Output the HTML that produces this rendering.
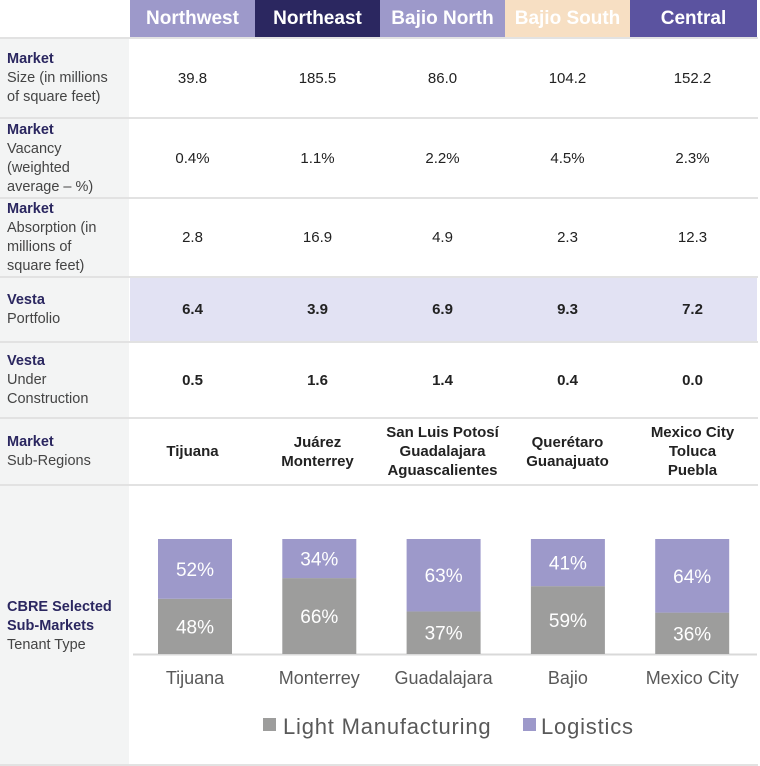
<!DOCTYPE html>
<html><head><meta charset="utf-8"><style>
body{margin:0;width:760px;height:766px;background:#fff;font-family:"Liberation Sans",sans-serif;position:relative;overflow:hidden}
.a{position:absolute;box-sizing:border-box}
.hd{color:#fff;font-weight:bold;font-size:19px;text-align:center;line-height:38px;top:0;height:38px}
.lc{left:0;width:129px;background:#f3f4f4;padding:4px 16px 4px 7px;font-size:14.5px;color:#444;line-height:19px;display:flex;flex-direction:column;justify-content:center}
.lc b{color:#2b2760}
.cell{font-size:15px;color:#222;text-align:center;display:flex;align-items:center;justify-content:center;line-height:19px}
.sep{left:0;width:758px;height:2px;background:#e2e2e2}
</style></head><body>
<div class="a hd" style="left:130px;width:125px;background:#9d99ca">Northwest</div>
<div class="a hd" style="left:255px;width:125px;background:#2b2760">Northeast</div>
<div class="a hd" style="left:380px;width:125px;background:#9d99ca">Bajio North</div>
<div class="a hd" style="left:505px;width:125px;background:#f7dfc3">Bajio South</div>
<div class="a hd" style="left:630px;width:127px;background:#5b53a0">Central</div>
<div class="a" style="left:130px;top:277px;width:627px;height:65px;background:#e2e2f3"></div>
<div id="rows"></div>
<svg class="a" id="chart" style="left:0;top:0" width="760" height="766"></svg>
<script>
const rowTops=[38,118,198,277,342,418,485];
const labels=[["Market","Size (in millions of square feet)"],["Market","Vacancy (weighted average – %)"],["Market","Absorption  (in millions of square feet)"],["Vesta","Portfolio"],["Vesta","Under Construction"],["Market","Sub-Regions"],["CBRE Selected Sub-Markets","Tenant Type"]];
const vals=[["39.8","185.5","86.0","104.2","152.2"],["0.4%","1.1%","2.2%","4.5%","2.3%"],["2.8","16.9","4.9","2.3","12.3"],["6.4","3.9","6.9","9.3","7.2"],["0.5","1.6","1.4","0.4","0.0"],["Tijuana","Juárez<br>Monterrey","San Luis Potosí<br>Guadalajara<br>Aguascalientes","Querétaro<br>Guanajuato","Mexico City<br>Toluca<br>Puebla"]];
const colX=[130,255,380,505,630];
const R=document.getElementById('rows');
for(let i=0;i<7;i++){
 const top=rowTops[i],bot=i<6?rowTops[i+1]:766;
 const s=document.createElement('div');s.className='a sep';s.style.top=(top-1)+'px';
 
 
 R.appendChild(s);
 const l=document.createElement('div');l.className='a lc';l.style.top=(top+1)+'px';l.style.height=(bot-top-1)+'px';
 l.innerHTML='<b>'+labels[i][0]+'</b><span>'+labels[i][1]+'</span>';
 
 
 R.appendChild(l);
 if(i<6)for(let j=0;j<5;j++){
  const c=document.createElement('div');c.className='a cell';
  c.style.left=colX[j]+'px';c.style.width='125px';c.style.top=top+'px';c.style.height=(bot-top)+'px';
  if(i>=3)c.style.fontWeight='bold';
  c.innerHTML=vals[i][j];
  
  
  R.appendChild(c);
 }
}
const sb=document.createElement('div');sb.className='a sep';sb.style.top='764px';


R.appendChild(sb);

const cats=["Tijuana","Monterrey","Guadalajara","Bajio","Mexico City"];
const manuf=[48,66,37,59,36];
const logi=[52,34,63,41,64];
const base=654,H=115;
const y=v=>H*v/100;
const cx=i=>195+i*124.3;
const svg=document.getElementById('chart'),NS='http://www.w3.org/2000/svg';
function mk(t,a,txt){const e=document.createElementNS(NS,t);for(const k in a)e.setAttribute(k,a[k]);if(txt)e.textContent=txt;svg.appendChild(e);return e;}
const ax=mk('line',{x1:133,x2:757,y1:base+0.5,y2:base+0.5,stroke:'#d9d9d9','stroke-width':2});


cats.forEach((c,i)=>{
 const hm=y(manuf[i]),hl=y(logi[i]);
 const b1=mk('rect',{x:cx(i)-37,y:base-hm,width:74,height:hm,fill:'#9d9d9c'});
 
 
 const b2=mk('rect',{x:cx(i)-37,y:base-hm-hl,width:74,height:hl,fill:'#9d99ca'});
 
 
 const t1=mk('text',{x:cx(i),y:base-hm/2+7,'text-anchor':'middle',fill:'#fff','font-size':19},manuf[i]+'%');
 
 
 const t2=mk('text',{x:cx(i),y:base-hm-hl/2+7,'text-anchor':'middle',fill:'#fff','font-size':19},logi[i]+'%');
 
 
 const t3=mk('text',{x:cx(i),y:684,'text-anchor':'middle',fill:'#595959','font-size':18},c);
 
 
});
const l1=mk('rect',{x:263,y:718,width:13,height:13,fill:'#9d9d9c'});


const l2=mk('text',{x:283,y:734,fill:'#595959','font-size':22,'letter-spacing':0.8},'Light Manufacturing');


const l3=mk('rect',{x:523,y:718,width:13,height:13,fill:'#9d99ca'});


const l4=mk('text',{x:541,y:734,fill:'#595959','font-size':22,'letter-spacing':0.8},'Logistics');


</script>
</body></html>
